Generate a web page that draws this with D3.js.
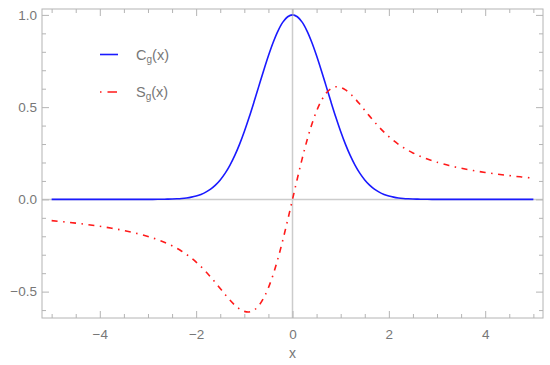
<!DOCTYPE html>
<html><head><meta charset="utf-8">
<script src="https://cdn.jsdelivr.net/npm/d3@7"></script>
<style>body{margin:0;background:#fff}svg{display:block}</style>
</head><body>
<svg id="chart" width="550" height="365"></svg>
<script>
const xValues = [-5,-4.75,-4.5,-4.25,-4,-3.75,-3.5,-3.25,
 -3,-2.9,-2.8,-2.7,-2.6,-2.5,-2.4,-2.3,-2.2,-2.1,-2,-1.9,-1.8,-1.7,-1.6,-1.5,-1.4,-1.3,-1.2,-1.1,-1,-0.9,-0.8,-0.7,-0.6,-0.5,-0.4,-0.3,-0.2,-0.1,
 0,0.1,0.2,0.3,0.4,0.5,0.6,0.7,0.8,0.9,1,1.1,1.2,1.3,1.4,1.5,1.6,1.7,1.8,1.9,2,2.1,2.2,2.3,2.4,2.5,2.6,2.7,2.8,2.9,3,
 3.25,3.5,3.75,4,4.25,4.5,4.75,5];
const cgValues = [0,0,0,0,0,0,0,0.00003,
 0.000123,0.000223,0.000394,0.000683,0.001159,0.00193,0.003151,0.005042,0.007907,0.012155,0.018316,0.027052,0.039164,0.055576,0.077305,0.105399,0.140858,0.18452,0.236928,0.298197,0.367879,0.444858,0.527292,0.612626,0.697676,0.778801,0.852144,0.913931,0.960789,0.99005,
 1,0.99005,0.960789,0.913931,0.852144,0.778801,0.697676,0.612626,0.527292,0.444858,0.367879,0.298197,0.236928,0.18452,0.140858,0.105399,0.077305,0.055576,0.039164,0.027052,0.018316,0.012155,0.007907,0.005042,0.003151,0.00193,0.001159,0.000683,0.000394,0.000223,0.000123,
 0.00003,0,0,0,0,0,0,0];
const sgValues = [-0.115246,-0.121607,-0.128733,-0.136781,-0.14595,-0.156505,-0.168812,-0.18344,
 -0.201157,-0.209376,-0.218398,-0.228356,-0.239406,-0.251729,-0.265522,-0.281026,-0.298467,-0.318072,-0.340026,-0.364436,-0.39129,-0.420388,-0.451284,-0.483228,-0.515114,-0.545456,-0.572396,-0.593763,-0.607157,-0.610142,-0.600413,-0.576042,-0.535712,-0.478925,-0.406152,-0.318916,-0.219753,-0.112088,
 0,0.112088,0.219753,0.318916,0.406152,0.478925,0.535712,0.576042,0.600413,0.610142,0.607157,0.593763,0.572396,0.545456,0.515114,0.483228,0.451284,0.420388,0.39129,0.364436,0.340026,0.318072,0.298467,0.281026,0.265522,0.251729,0.239406,0.228356,0.218398,0.209376,0.201157,
 0.18344,0.168812,0.156505,0.14595,0.136781,0.128733,0.121607,0.115246];
const xMajorTicks = [-4,-2,0,2,4];
const xMinorTicks = [-5,-4.5,-3.5,-3,-2.5,-1.5,-1,-0.5,0.5,1,1.5,2.5,3,3.5,4.5,5];
const yMajorTicks = [-0.5,0,0.5,1.0];
const yMinorTicks = [-0.6,-0.4,-0.3,-0.2,-0.1,0.1,0.2,0.3,0.4,0.6,0.7,0.8,0.9];
const legendNames = ["C","S"];

const svg = d3.select("#chart");
const L = 42, R = 543, T = 9, B = 318;
const x = d3.scaleLinear().domain([-5.2, 5.2]).range([L, R]);
const y = d3.scaleLinear().domain([-0.643, 1.032]).range([B, T]);
const frameColor = "#b4b4b4";
const labelColor = "#777777";
const font = "'Liberation Sans', Arial, sans-serif";

svg.append("line").attr("x1", x(0)).attr("x2", x(0)).attr("y1", T).attr("y2", B)
  .attr("stroke", "#cccccc").attr("stroke-width", 1.5);
svg.append("line").attr("x1", L).attr("x2", R).attr("y1", y(0)).attr("y2", y(0))
  .attr("stroke", "#cccccc").attr("stroke-width", 1.5);

const pts = (vals) => xValues.map((v, i) => [v, vals[i]]);
const line = d3.line().x(d => x(d[0])).y(d => y(d[1])).curve(d3.curveCatmullRom.alpha(0.5));
const gPlot = svg.append("g");
gPlot.append("path").datum(pts(cgValues)).attr("d", line)
  .attr("fill", "none").attr("stroke", "#1a1aff").attr("stroke-width", 1.6);
gPlot.append("path").datum(pts(sgValues)).attr("d", line)
  .attr("fill", "none").attr("stroke", "#ff1a1a").attr("stroke-width", 1.6)
  .attr("stroke-dasharray", "6,5.5,1.5,5.5");

function addAxis(axisGen, transform, ticks) {
  const g = svg.append("g").attr("transform", transform).call(axisGen.tickValues(ticks).tickSizeOuter(0));
  g.select(".domain").remove();
  g.selectAll(".tick line").attr("stroke", frameColor).attr("stroke-width", 1);
  return g;
}
const bMaj = addAxis(d3.axisBottom(x).tickSize(-7).tickPadding(11).tickFormat(d => d3.format("d")(d).replace("-", "\u2212")), `translate(0,${B})`, xMajorTicks);
bMaj.selectAll("text").attr("fill", labelColor).attr("font-size", 13.5).attr("font-family", font);
addAxis(d3.axisBottom(x).tickSize(-4).tickFormat(""), `translate(0,${B})`, xMinorTicks);
addAxis(d3.axisTop(x).tickSize(-7).tickFormat(""), `translate(0,${T})`, xMajorTicks);
addAxis(d3.axisTop(x).tickSize(-4).tickFormat(""), `translate(0,${T})`, xMinorTicks);
const lMaj = addAxis(d3.axisLeft(y).tickSize(-7).tickPadding(5).tickFormat(d => d3.format(".1f")(d).replace("-", "\u2212")), `translate(${L},0)`, yMajorTicks);
lMaj.selectAll("text").attr("fill", labelColor).attr("font-size", 13.5).attr("font-family", font);
addAxis(d3.axisLeft(y).tickSize(-4).tickFormat(""), `translate(${L},0)`, yMinorTicks);
addAxis(d3.axisRight(y).tickSize(-7).tickFormat(""), `translate(${R},0)`, yMajorTicks);
addAxis(d3.axisRight(y).tickSize(-4).tickFormat(""), `translate(${R},0)`, yMinorTicks);

svg.append("rect").attr("x", L).attr("y", T).attr("width", R - L).attr("height", B - T)
  .attr("fill", "none").attr("stroke", frameColor).attr("stroke-width", 1);

svg.append("text").attr("x", x(0)).attr("y", 358).attr("text-anchor", "middle")
  .attr("fill", labelColor).attr("font-size", 14).attr("font-family", font).text("x");

const legendY = [54.5, 92];
const legendStyles = [{c: "#1a1aff", d: null}, {c: "#ff1a1a", d: "1.5,6,8,0"}];
legendNames.forEach((n, i) => {
  svg.append("line").attr("x1", 100).attr("x2", 118).attr("y1", legendY[i]).attr("y2", legendY[i])
    .attr("stroke", legendStyles[i].c).attr("stroke-width", 1.6)
    .attr("stroke-dasharray", legendStyles[i].d);
  const t = svg.append("text").attr("x", 136).attr("y", legendY[i] + 5)
    .attr("fill", labelColor).attr("font-size", 14.5).attr("font-family", font);
  t.append("tspan").text(n);
  t.append("tspan").attr("font-size", 10).attr("dy", 3).text("g");
  t.append("tspan").attr("dy", -3).text("(x)");
});
</script>
</body></html>
